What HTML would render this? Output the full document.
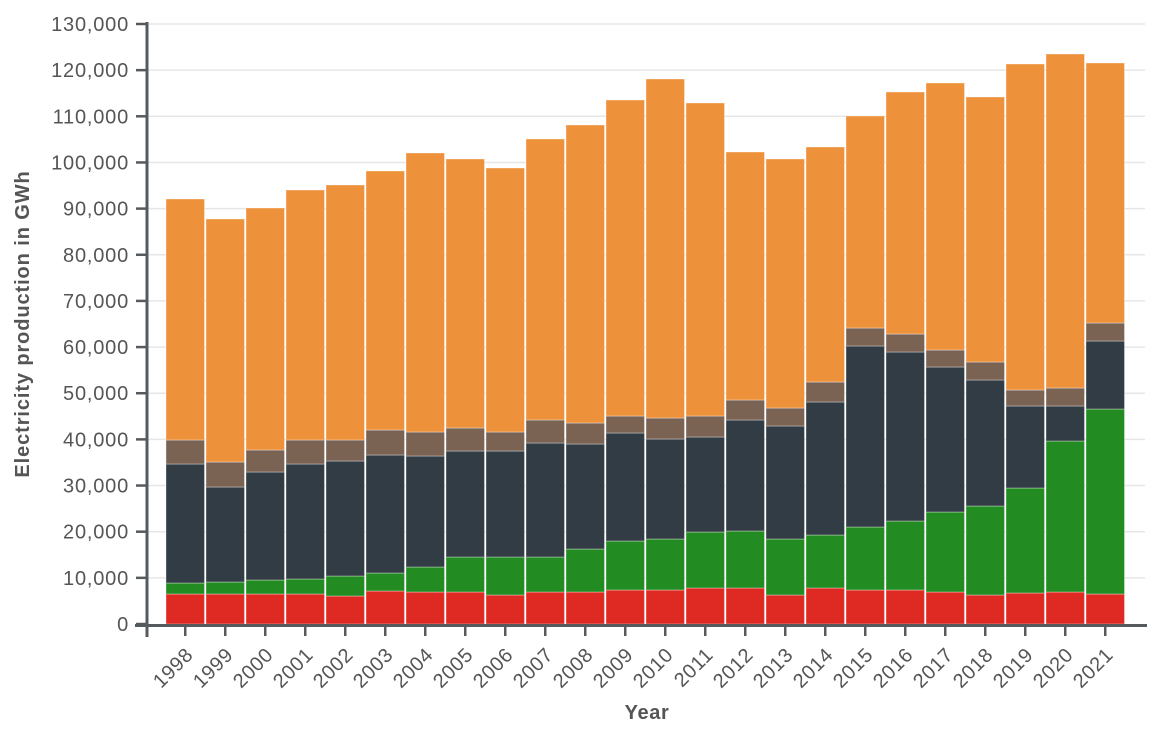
<!DOCTYPE html>
<html><head><meta charset="utf-8"><style>
body{margin:0;background:#fff;}
svg{display:block;font-family:"Liberation Sans",sans-serif;}
</style></head><body>
<svg id="s" width="1162" height="736" xmlns="http://www.w3.org/2000/svg"></svg>
<script>
var s=document.getElementById('s'),h='';
for(var i=1;i<=13;i++){var y=624-i*46.154;h+='<line x1="147" x2="1145" y1="'+y+'" y2="'+y+'" stroke="#e6e6e6" stroke-width="1.5"/>';}
var d=[[594,583,464,440,199],[594,582,487,462,219],[594,580,472,450,208],[594,579,464,440,190],[596,576,461,440,185],[591,573,455,430,171],[592,567,456,432,153],[592,557,451,428,159],[595,557,451,432,168],[592,557,443,420,139],[592,549,444,423,125],[590,541,433,416,100],[590,539,439,418,79],[588,532,437,416,103],[588,531,420,400,152],[595,539,426,408,159],[588,535,402,382,147],[590,527,346,328,116],[590,521,352,334,92],[592,512,367,350,83],[595,506,380,362,97],[593,488,406,390,64],[592,441,406,388,54],[594,409,341,323,63]];
var c=['#df2a24','#228b22','#323c44','#7b6354','#ee913b'];
for(var b=0;b<24;b++){var x=166+b*40,p=624;for(var k=0;k<5;k++){var t=d[b][k];h+='<rect x="'+x+'" y="'+t+'" width="38.5" height="'+(p-t)+'" fill="'+c[k]+'" stroke="#fff" stroke-opacity="0.35" stroke-width="1"/>';p=t;}
var cx=x+19.25;h+='<line x1="'+cx+'" x2="'+cx+'" y1="625" y2="636" stroke="#555a5f" stroke-width="2.5"/>';
h+='<text transform="translate('+(cx+9)+',656) rotate(-45)" text-anchor="end" font-size="20" letter-spacing="0.6" fill="#555">'+(1998+b)+'</text>';}
h+='<line x1="147" x2="147" y1="22" y2="637" stroke="#555a5f" stroke-width="3"/>';
h+='<line x1="135" x2="1147" y1="625.5" y2="625.5" stroke="#555a5f" stroke-width="3"/>';
for(var i=0;i<=13;i++){var y=624-i*46.154;h+='<line x1="136" x2="147" y1="'+y+'" y2="'+y+'" stroke="#555a5f" stroke-width="2.5"/>';
h+='<text x="129" y="'+(y+7)+'" text-anchor="end" font-size="20" letter-spacing="0.8" fill="#555">'+(i*10000).toLocaleString('en-US')+'</text>';}
h+='<text x="647" y="719" text-anchor="middle" font-size="20" letter-spacing="0.6" font-weight="bold" fill="#555">Year</text>';
h+='<text transform="translate(29,324) rotate(-90)" text-anchor="middle" font-size="20" letter-spacing="0.9" font-weight="bold" fill="#555">Electricity production in GWh</text>';
s.innerHTML=h;
</script>
</body></html>
